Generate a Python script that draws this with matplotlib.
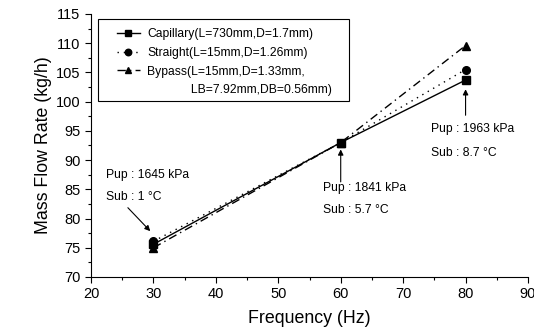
import matplotlib
matplotlib.use("Agg")
import matplotlib.pyplot as plt
from matplotlib.ticker import MultipleLocator
from matplotlib.patches import Rectangle
from matplotlib.lines import Line2D

plt.rcParams['font.family'] = ['Liberation Sans', 'DejaVu Sans']

freq = [30, 60, 80]
capillary = [75.6, 93.0, 103.7]
straight = [76.1, 93.0, 105.5]
bypass = [75.0, 93.0, 109.6]

labels = ["Capillary(L=730mm,D=1.7mm)",
          "Straight(L=15mm,D=1.26mm)",
          "Bypass(L=15mm,D=1.33mm,",
          "             LB=7.92mm,DB=0.56mm)"]

ann_text = [("Pup : 1645 kPa", "Sub : 1 \u00b0C"),
            ("Pup : 1841 kPa", "Sub : 5.7 \u00b0C"),
            ("Pup : 1963 kPa", "Sub : 8.7 \u00b0C")]

W, H = 534, 332
fig = plt.figure(figsize=(W / 100, H / 100), dpi=100)
ax = fig.add_axes([91 / W, 1 - 277 / H, (528 - 91) / W, (277 - 14) / H])

l1, = ax.plot(freq, capillary, color='black', linestyle='-', lw=1.0, marker='s', ms=5.5)
l2, = ax.plot(freq, straight, color='black', linestyle=(0, (1, 3.5)), lw=1.0, marker='o', ms=5.5)
l3, = ax.plot(freq, bypass, color='black', linestyle=(0, (6, 3, 1, 3)), lw=1.0, marker='^', ms=5.5)

ax.set_xlim(20, 90)
ax.set_ylim(70, 115)
ax.xaxis.set_major_locator(MultipleLocator(10))
ax.xaxis.set_minor_locator(MultipleLocator(5))
ax.yaxis.set_major_locator(MultipleLocator(5))
ax.yaxis.set_minor_locator(MultipleLocator(2.5))
ax.tick_params(which='major', direction='out', length=4, width=0.8, labelsize=10.5)
ax.tick_params(which='minor', direction='out', length=2.5, width=0.8)
ax.spines['top'].set_visible(False)
ax.spines['right'].set_visible(False)

ax.set_xlabel("Frequency (Hz)", fontsize=12.8, labelpad=6)
ax.set_ylabel("Mass Flow Rate (kg/h)", fontsize=12.8, labelpad=3)

# legend (frame drawn separately to match the reference's padding)
blank = Line2D([], [], linestyle='none', marker=None)
leg = ax.legend([l1, l2, l3, blank], labels, loc='upper left',
                bbox_to_anchor=(117 / W, 1 - 28 / H),
                bbox_transform=fig.transFigure, fontsize=8.7, frameon=False,
                handlelength=1.9, borderpad=0, borderaxespad=0,
                labelspacing=0.56, handletextpad=0.6, markerscale=0.85)
fig.patches.append(Rectangle((98 / W, 1 - 101 / H), 251 / W, 82 / H,
                             transform=fig.transFigure, fill=False,
                             edgecolor='black', linewidth=0.8))

fs = 8.7
arrow_kw = dict(arrowstyle='-|>', color='black', lw=0.8, mutation_scale=8)

# 30 Hz
ax.annotate("", xy=(29.8, 77.5), xytext=(25.6, 82.2), arrowprops=arrow_kw)
ax.text(22.4, 87.5, ann_text[0][0], fontsize=fs, va='center')
ax.text(22.4, 83.7, ann_text[0][1], fontsize=fs, va='center')

# 60 Hz
ax.annotate("", xy=(60, 92.3), xytext=(60, 85.8), arrowprops=arrow_kw)
ax.text(57.2, 85.2, ann_text[1][0], fontsize=fs, va='center')
ax.text(57.2, 81.5, ann_text[1][1], fontsize=fs, va='center')

# 80 Hz
ax.annotate("", xy=(80, 102.6), xytext=(80, 97.2), arrowprops=arrow_kw)
ax.text(74.5, 95.3, ann_text[2][0], fontsize=fs, va='center')
ax.text(74.5, 91.2, ann_text[2][1], fontsize=fs, va='center')

fig.savefig("out.png", dpi=100)
